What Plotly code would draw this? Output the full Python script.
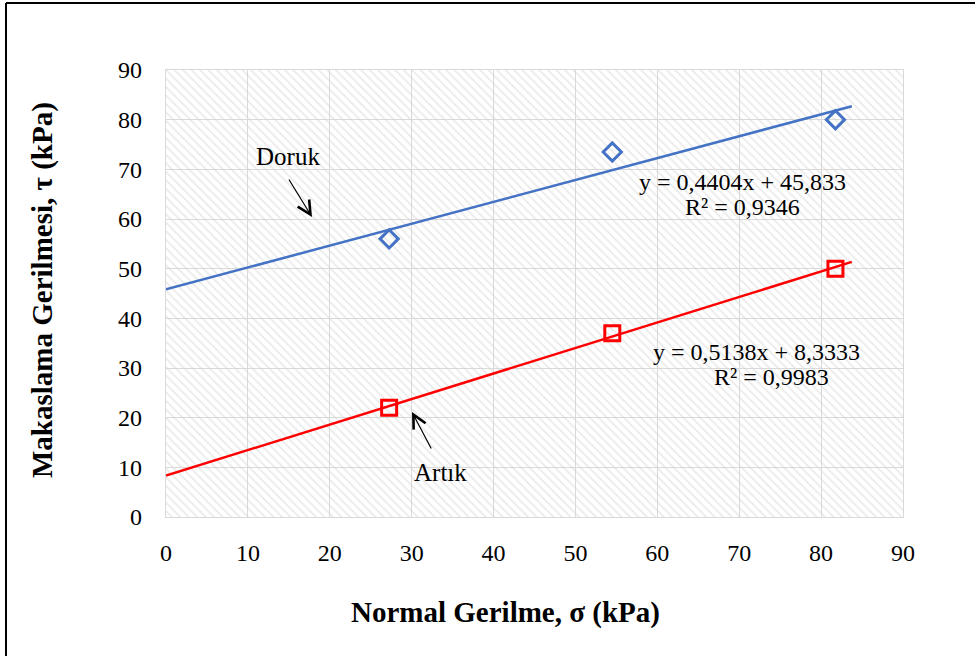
import numpy as np
import plotly.graph_objects as go

# Normal stress levels (kPa) and measured shear strengths (kPa)
normal_stress = [27.25, 54.5, 81.75]
peak_shear = [56.0, 73.5, 80.0]       # Doruk
residual_shear = [22.0, 37.0, 50.0]   # Artık

# Linear trend coefficients (slope, intercept) and R²
peak_fit = (0.4404, 45.833)
peak_r2 = "0,9346"
residual_fit = (0.5138, 8.3333)
residual_r2 = "0,9983"
trend_x = [0.0, 83.75]

x_ticks = list(range(0, 91, 10))
y_ticks = list(range(0, 91, 10))

SERIF = "Liberation Serif, Times New Roman, serif"
W, H = 975, 656
L, R, T, B = 166, 72, 70, 139

fig = go.Figure()

# Hatched plot-area background
fig.add_trace(go.Scatter(
    x=[0, 90, 90, 0, 0], y=[0, 0, 90, 90, 0],
    mode="lines", line=dict(width=0), fill="toself",
    fillcolor="rgba(0,0,0,0)",
    fillpattern=dict(shape="\\", fgcolor="#d6d6d6", bgcolor="rgba(0,0,0,0)",
                     size=6, solidity=0.3),
    hoverinfo="skip", showlegend=False,
))

tx = np.array(trend_x)
fig.add_trace(go.Scatter(
    x=tx, y=peak_fit[0] * tx + peak_fit[1], mode="lines",
    line=dict(color="#4472C4", width=2.5), showlegend=False, hoverinfo="skip"))
fig.add_trace(go.Scatter(
    x=tx, y=residual_fit[0] * tx + residual_fit[1], mode="lines",
    line=dict(color="#FF0000", width=2.5), showlegend=False, hoverinfo="skip"))

fig.add_trace(go.Scatter(
    x=normal_stress, y=peak_shear, mode="markers", name="Doruk",
    marker=dict(symbol="diamond-open", size=14, color="#4472C4",
                line=dict(width=3, color="#4472C4")),
    showlegend=False))
fig.add_trace(go.Scatter(
    x=normal_stress, y=residual_shear, mode="markers", name="Artık",
    marker=dict(symbol="square-open", size=15, color="#FF0000",
                line=dict(width=3, color="#FF0000")),
    showlegend=False))


def fmt_eq(fit):
    a, b = fit
    sa = f"{a:.4f}".replace(".", ",")
    sb = f"{b:g}".replace(".", ",")
    return f"y = {sa}x + {sb}"


txt = dict(family=SERIF, size=24, color="black")
annotations = [
    dict(x=70.46, y=67.45, text=fmt_eq(peak_fit)),
    dict(x=70.46, y=62.41, text=f"R² = {peak_r2}"),
    dict(x=72.17, y=33.22, text=fmt_eq(residual_fit)),
    dict(x=73.88, y=28.19, text=f"R² = {residual_r2}"),
]
for a in annotations:
    a.update(xref="x", yref="y", showarrow=False, font=txt,
             xanchor="center", yanchor="middle")

label_font = dict(family=SERIF, size=25, color="black")
annotations += [
    dict(x=14.9, y=72.68, xref="x", yref="y", text="Doruk", showarrow=False,
         font=label_font, xanchor="center", yanchor="middle"),
    dict(x=17.83, y=60.4, xref="x", yref="y", ax=-24, ay=-39, text="",
         showarrow=True, arrowhead=5, arrowsize=2.2, arrowwidth=1.2,
         arrowcolor="black"),
    dict(x=33.46, y=9.06, xref="x", yref="y", text="Artık", showarrow=False,
         font=label_font, xanchor="center", yanchor="middle"),
    dict(x=30.04, y=21.14, xref="x", yref="y", ax=20, ay=38, text="",
         showarrow=True, arrowhead=5, arrowsize=2.2, arrowwidth=1.2,
         arrowcolor="black"),
]

# Axis titles
pw, ph = W - L - R, H - T - B
title_font = dict(family=SERIF, size=29, color="black")
annotations += [
    dict(x=(505 - L) / pw, y=(H - B - 612) / ph, xref="paper", yref="paper",
         text="<b>Normal Gerilme, σ (kPa)</b>", showarrow=False,
         font=title_font, xanchor="center", yanchor="middle"),
    dict(x=(42 - L) / pw, y=(H - B - 290) / ph, xref="paper", yref="paper",
         text="<b>Makaslama Gerilmesi, τ (kPa)</b>", showarrow=False,
         font=title_font, textangle=-90, xanchor="center", yanchor="middle"),
]

# Outer frame (left and top edges visible)
shapes = [
    dict(type="line", xref="paper", yref="paper",
         x0=(6 - L) / pw, x1=(6 - L) / pw, y0=(H - B - 3) / ph, y1=(H - B - 700) / ph,
         line=dict(color="black", width=2)),
    dict(type="line", xref="paper", yref="paper",
         x0=(6 - L) / pw, x1=(1000 - L) / pw, y0=(H - B - 3) / ph, y1=(H - B - 3) / ph,
         line=dict(color="black", width=2)),
]

axis_common = dict(
    showgrid=True, gridcolor="#d9d9d9", gridwidth=1.3,
    showline=True, linecolor="#d9d9d9", linewidth=1.3, mirror=True,
    zeroline=False, ticks="", tickfont=dict(family=SERIF, size=24, color="black"),
    range=[0, 90], fixedrange=True,
)

fig.update_layout(
    width=W, height=H,
    margin=dict(l=L, r=R, t=T, b=B),
    paper_bgcolor="white", plot_bgcolor="white",
    xaxis=dict(tickvals=x_ticks, ticklabelstandoff=14, **axis_common),
    yaxis=dict(tickvals=y_ticks, ticklabelstandoff=18, **axis_common),
    annotations=annotations, shapes=shapes,
    showlegend=False,
)

fig.write_html("out.html")
